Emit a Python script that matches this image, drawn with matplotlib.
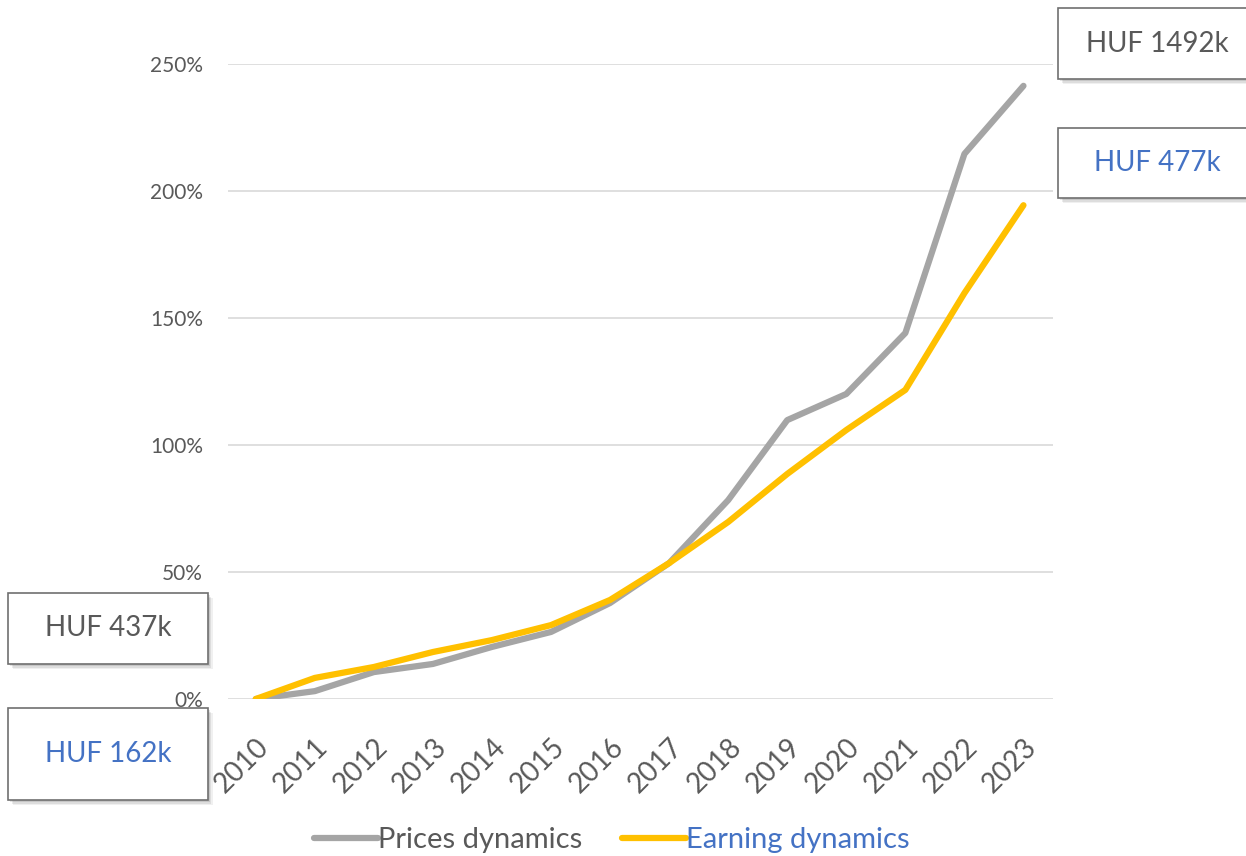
import matplotlib.pyplot as plt
from matplotlib.patches import Rectangle

plt.rcParams['font.family'] = ['Lato', 'DejaVu Sans']

years = [2010, 2011, 2012, 2013, 2014, 2015, 2016, 2017, 2018, 2019, 2020, 2021, 2022, 2023]
# growth since 2010, in %
prices = [0, 3.1, 10.6, 13.8, 20.5, 26.4, 37.8, 53.5, 78.3, 109.8, 120.1, 144.1, 214.6, 241.4]
earnings = [0, 8.3, 12.6, 18.5, 23.2, 29.1, 39.0, 53.5, 69.7, 88.6, 105.9, 121.7, 159.8, 194.4]
yticks = [0, 50, 100, 150, 200, 250]

grey_txt = '#595959'
blue_txt = '#4472C4'

fig = plt.figure(figsize=(12.46, 8.56), dpi=100)
W, H = 1246, 856
ax = fig.add_axes([228 / W, 1 - 699 / H, (1053 - 228) / W, (699 - 64) / H])

ax.plot(years, prices, color='#A5A5A5', lw=4.5, label='Prices dynamics', solid_capstyle='round')
ax.plot(years, earnings, color='#FFC000', lw=4.5, label='Earning dynamics', solid_capstyle='round')

ax.set_xlim(2010 - 0.47, 2023 + 0.5)
ax.set_ylim(0, 250)
ax.set_yticks(yticks)
ax.set_yticklabels([f'{v}%' for v in yticks], color=grey_txt, fontsize=15)
ax.set_xticks(years)
ax.set_xticklabels([str(y) for y in years], rotation=45, ha='right', va='top',
                   rotation_mode='anchor', color=grey_txt, fontsize=20)
ax.tick_params(length=0)
ax.tick_params(axis='y', pad=18)
ax.tick_params(axis='x', pad=25)
ax.grid(axis='y', color='#D9D9D9', lw=1.2)
ax.set_axisbelow(True)
for s in ax.spines.values():
    s.set_visible(False)

leg = ax.legend(loc='upper center', bbox_to_anchor=(0.465, -0.16), ncol=2, frameon=False,
                fontsize=21, handlelength=2.2, handletextpad=0.0, columnspacing=1.35)
for t, c in zip(leg.get_texts(), [grey_txt, blue_txt]):
    t.set_color(c)


def label_box(x0, y0, x1, y1, text, color):
    # box in pixel coords (from the top-left corner), with a soft drop shadow
    for i, a in enumerate([0.10, 0.08, 0.06]):
        off = 2 + i * 1.5
        fig.patches.append(Rectangle(((x0 + off) / W, 1 - (y1 + off) / H), (x1 - x0) / W, (y1 - y0) / H,
                                     transform=fig.transFigure, facecolor='black', alpha=a,
                                     edgecolor='none', zorder=1))
    fig.patches.append(Rectangle((x0 / W, 1 - y1 / H), (x1 - x0) / W, (y1 - y0) / H,
                                 transform=fig.transFigure, facecolor='white',
                                 edgecolor='#707070', lw=1.2, zorder=2))
    fig.text((x0 + x1) / 2 / W, 1 - (y0 + y1) / 2 / H, text, ha='center', va='center',
             color=color, fontsize=20, zorder=3)


label_box(8, 593, 208, 664, 'HUF 437k', grey_txt)
label_box(8, 708, 208, 800, 'HUF 162k', blue_txt)
label_box(1058, 8, 1256, 79, 'HUF 1492k', grey_txt)
label_box(1058, 128, 1256, 198, 'HUF 477k', blue_txt)

fig.savefig('out.png', dpi=100)
